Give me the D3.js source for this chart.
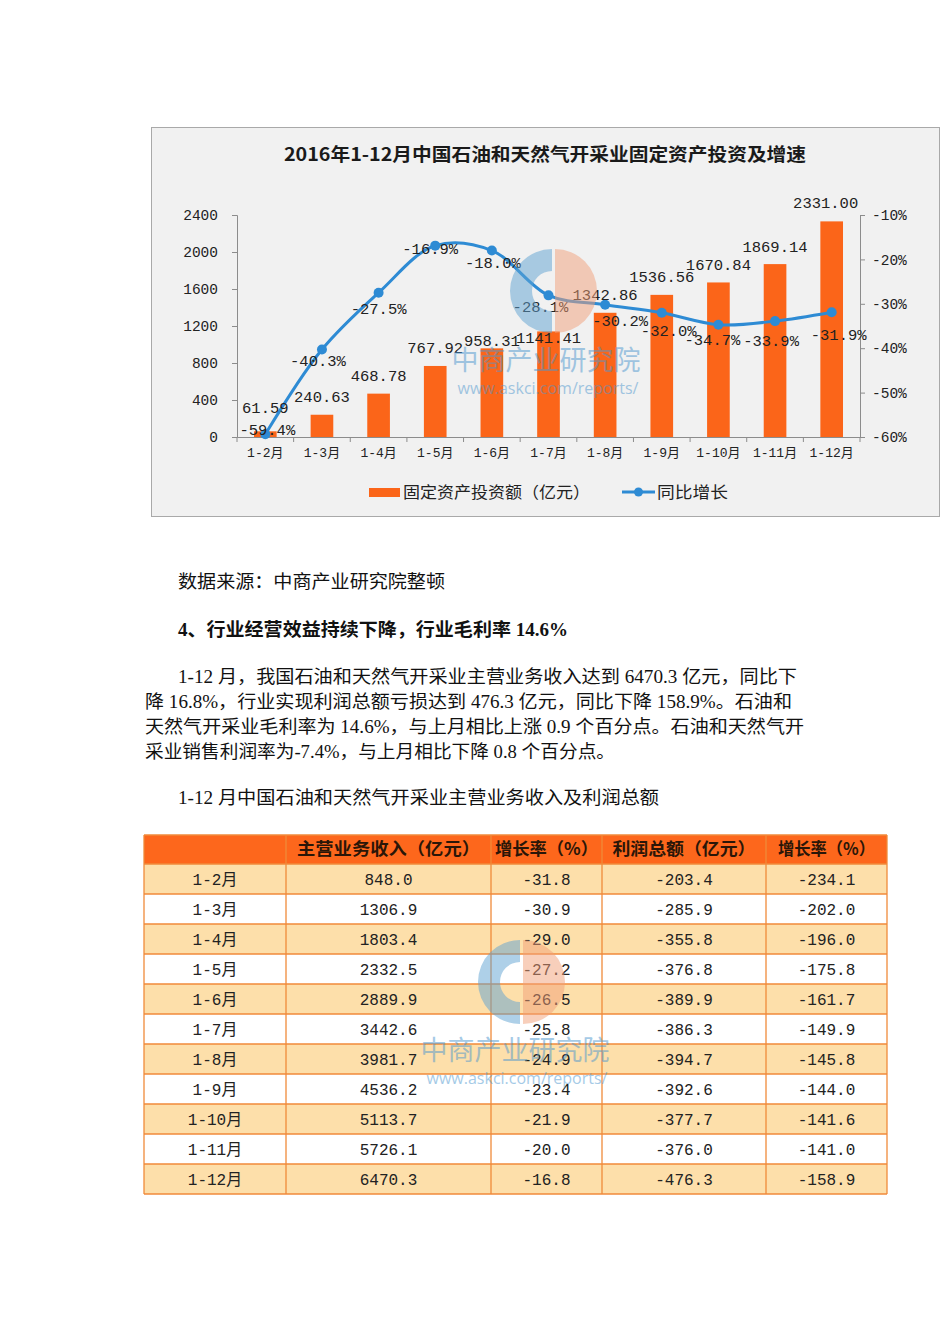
<!DOCTYPE html>
<html>
<head>
<meta charset="utf-8">
<script src="https://cdn.jsdelivr.net/npm/d3@7"></script>
<style>
  body { margin: 0; background: #fff; }
</style>
</head>
<body>
<div id="wrapper"></div>
<script>
// chart data
const months = ["1-2月", "1-3月", "1-4月", "1-5月", "1-6月", "1-7月", "1-8月", "1-9月", "1-10月", "1-11月", "1-12月"];
const investment = [61.59, 240.63, 468.78, 767.92, 958.31, 1141.41, 1342.86, 1536.56, 1670.84, 1869.14, 2331.00];
const growth = [-59.4, -40.3, -27.5, -16.9, -18.0, -28.1, -30.2, -32.0, -34.7, -33.9, -31.9];
const leftTicks = [0, 400, 800, 1200, 1600, 2000, 2400];
const rightTicks = [-60, -50, -40, -30, -20, -10];
const chartTitle = "2016年1-12月中国石油和天然气开采业固定资产投资及增速";
const legendNames = ["固定资产投资额（亿元）", "同比增长"];

// table data
const tableHeader = ["", "主营业务收入（亿元）", "增长率（%）", "利润总额（亿元）", "增长率（%）"];
const revenue = [848.0, 1306.9, 1803.4, 2332.5, 2889.9, 3442.6, 3981.7, 4536.2, 5113.7, 5726.1, 6470.3];
const revenueGrowth = [-31.8, -30.9, -29.0, -27.2, -26.5, -25.8, -24.9, -23.4, -21.9, -20.0, -16.8];
const profit = [-203.4, -285.9, -355.8, -376.8, -389.9, -386.3, -394.7, -392.6, -377.7, -376.0, -476.3];
const profitGrowth = [-234.1, -202.0, -196.0, -175.8, -161.7, -149.9, -145.8, -144.0, -141.6, -141.0, -158.9];

// document text
const sourceText = "数据来源：中商产业研究院整顿";
const headingText = "4、行业经营效益持续下降，行业毛利率 14.6%";
const paragraphLines = [
  "1-12 月，我国石油和天然气开采业主营业务收入达到 6470.3 亿元，同比下",
  "降 16.8%，行业实现利润总额亏损达到 476.3 亿元，同比下降 158.9%。石油和",
  "天然气开采业毛利率为 14.6%，与上月相比上涨 0.9 个百分点。石油和天然气开",
  "采业销售利润率为-7.4%，与上月相比下降 0.8 个百分点。"
];
const tableCaption = "1-12 月中国石油和天然气开采业主营业务收入及利润总额";

const monoFont = "'Liberation Mono', 'Noto Sans CJK SC', monospace";
const cjkFont = "'Noto Sans CJK SC', sans-serif";
const docFont = "'Liberation Serif', 'Noto Sans CJK SC', serif";

const barColor = "#fb6519";
const lineColor = "#2e8bd4";

const svg = d3.select("#wrapper")
  .append("svg")
  .attr("width", 950)
  .attr("height", 1344)
  .style("display", "block")

// watermark helper (askci logo + text)
function drawWatermark(g, cx, cy, tx, ty) {
  const wm = g.append("g").style("opacity", 0.5).style("pointer-events", "none")
  const arc = d3.arc()
  wm.append("path")
    .attr("transform", `translate(${cx},${cy})`)
    .attr("d", arc({innerRadius: 20, outerRadius: 42, startAngle: Math.PI, endAngle: 2 * Math.PI}))
    .attr("fill", "#5fa3d3")
  wm.append("path")
    .attr("transform", `translate(${cx + 3},${cy})`)
    .attr("d", arc({innerRadius: 0, outerRadius: 42, startAngle: 0, endAngle: Math.PI}))
    .attr("fill", "#f2a07a")
  wm.append("text")
    .attr("x", tx).attr("y", ty)
    .attr("text-anchor", "middle")
    .attr("font-family", cjkFont)
    .attr("font-size", 27)
    .attr("fill", "#4d97cf")
    .text("中商产业研究院")
  wm.append("text")
    .attr("x", tx + 2).attr("y", ty + 24)
    .attr("text-anchor", "middle")
    .attr("font-family", "'Open Sans', sans-serif")
    .attr("font-size", 16)
    .attr("fill", "#4d97cf")
    .text("www.askci.com/reports/")
}

// ---------------- Chart ----------------
const chart = svg.append("g")

chart.append("rect")
  .attr("x", 151.5).attr("y", 127.5)
  .attr("width", 788).attr("height", 389)
  .attr("fill", "#f1f1f1")
  .attr("stroke", "#a9a9a9")
  .attr("stroke-width", 1)

chart.append("text")
  .attr("x", 545).attr("y", 161)
  .attr("text-anchor", "middle")
  .attr("font-family", cjkFont)
  .attr("font-weight", "bold")
  .attr("font-size", 18)
  .attr("fill", "#1a1a1a")
  .attr("textLength", 522)
  .attr("lengthAdjust", "spacingAndGlyphs")
  .text(chartTitle)

const plot = { left: 237, right: 860, top: 215, bottom: 437 }

const xScale = d3.scaleBand()
  .domain(months)
  .range([plot.left, plot.right])
  .paddingInner(0.6)
  .paddingOuter(0.3)

const yLeft = d3.scaleLinear().domain([0, 2400]).range([plot.bottom, plot.top])
const yRight = d3.scaleLinear().domain([-60, -10]).range([plot.bottom, plot.top])

const axisColor = "#8c8c8c"

const yAxisL = chart.append("g")
  .attr("transform", `translate(${plot.left},0)`)
  .call(d3.axisLeft(yLeft).tickValues(leftTicks).tickFormat(d3.format("d"))
    .tickSize(5).tickSizeOuter(5).tickPadding(14))
yAxisL.selectAll("text").attr("font-family", monoFont).attr("font-size", 14.5).attr("fill", "#222")

const yAxisR = chart.append("g")
  .attr("transform", `translate(${plot.right},0)`)
  .call(d3.axisRight(yRight).tickValues(rightTicks).tickSize(5).tickSizeOuter(5).tickPadding(7).tickFormat(d => d + "%"))
yAxisR.selectAll("text").attr("font-family", monoFont).attr("font-size", 14.5).attr("fill", "#222")

const xAxis = chart.append("g")
  .attr("transform", `translate(0,${plot.bottom})`)
  .call(d3.axisBottom(xScale).tickSize(0).tickPadding(11))
xAxis.selectAll("text").attr("font-family", monoFont).attr("font-size", 13).attr("fill", "#222")

// boundary ticks between categories
xAxis.selectAll(".btick")
  .data(d3.range(months.length + 1))
  .join("line")
  .attr("class", "btick")
  .attr("x1", i => plot.left + i * xScale.step())
  .attr("x2", i => plot.left + i * xScale.step())
  .attr("y1", 0).attr("y2", 5)
  .attr("stroke", axisColor)

chart.selectAll(".domain, .tick line").attr("stroke", axisColor)

// bars
chart.append("g")
  .selectAll("rect")
  .data(investment)
  .join("rect")
  .attr("x", (d, i) => xScale(months[i]))
  .attr("y", d => yLeft(d))
  .attr("width", xScale.bandwidth())
  .attr("height", d => yLeft(0) - yLeft(d))
  .attr("fill", barColor)

// growth line
const lineGenerator = d3.line()
  .x((d, i) => xScale(months[i]) + xScale.bandwidth() / 2)
  .y(d => yRight(d))
  .curve(d3.curveCatmullRom.alpha(0.5))

chart.append("path")
  .attr("d", lineGenerator(growth))
  .attr("fill", "none")
  .attr("stroke", lineColor)
  .attr("stroke-width", 3)

chart.append("g")
  .selectAll("circle")
  .data(growth)
  .join("circle")
  .attr("cx", (d, i) => xScale(months[i]) + xScale.bandwidth() / 2)
  .attr("cy", d => yRight(d))
  .attr("r", 5)
  .attr("fill", lineColor)

// value labels (small nudges like the hand-placed Excel labels)
const barNudge = { 0: [0, -24], 4: [0, -8], 5: [0, 6], 10: [-6, -19] }
chart.append("g")
  .selectAll("text")
  .data(investment)
  .join("text")
  .attr("x", (d, i) => xScale(months[i]) + xScale.bandwidth() / 2 + (barNudge[i] ? barNudge[i][0] : 0))
  .attr("y", (d, i) => yLeft(d) + (barNudge[i] ? barNudge[i][1] : -18))
  .attr("dy", "0.35em")
  .attr("text-anchor", "middle")
  .attr("font-family", monoFont)
  .attr("font-size", 15.5)
  .attr("fill", "#222")
  .text(d => d.toFixed(2))

const lineNudge = {
  0: [2, -5], 1: [-4, 11], 2: [0, 16], 3: [-5, 3], 4: [1, 12], 5: [-8, 11],
  6: [15, 16], 7: [7, 18], 8: [-6, 15], 9: [-4, 19], 10: [7, 22]
}
chart.append("g")
  .selectAll("text")
  .data(growth)
  .join("text")
  .attr("x", (d, i) => xScale(months[i]) + xScale.bandwidth() / 2 + lineNudge[i][0])
  .attr("y", (d, i) => yRight(d) + lineNudge[i][1])
  .attr("dy", "0.35em")
  .attr("text-anchor", "middle")
  .attr("font-family", monoFont)
  .attr("font-size", 15.5)
  .attr("fill", "#222")
  .text(d => d.toFixed(1) + "%")

// watermark sits on top of the marks
drawWatermark(chart, 552, 291, 546, 370)

// legend
const legend = chart.append("g")
legend.append("rect")
  .attr("x", 369).attr("y", 488)
  .attr("width", 31).attr("height", 9)
  .attr("fill", barColor)
legend.append("text")
  .attr("x", 403).attr("y", 492)
  .attr("dy", "0.35em")
  .attr("font-family", cjkFont)
  .attr("font-size", 16)
  .attr("fill", "#222")
  .attr("textLength", 187).attr("lengthAdjust", "spacingAndGlyphs")
  .text(legendNames[0])
legend.append("line")
  .attr("x1", 622).attr("x2", 655)
  .attr("y1", 492).attr("y2", 492)
  .attr("stroke", lineColor)
  .attr("stroke-width", 3)
legend.append("circle")
  .attr("cx", 638.5).attr("cy", 492).attr("r", 4.5)
  .attr("fill", lineColor)
legend.append("text")
  .attr("x", 657).attr("y", 492)
  .attr("dy", "0.35em")
  .attr("font-family", cjkFont)
  .attr("font-size", 16)
  .attr("fill", "#222")
  .attr("textLength", 71).attr("lengthAdjust", "spacingAndGlyphs")
  .text(legendNames[1])

// ---------------- Document text ----------------
const doc = svg.append("g")
  .attr("font-family", docFont)
  .attr("font-size", 18)
  .attr("fill", "#111")

doc.append("text")
  .attr("x", 178).attr("y", 588)
  .attr("textLength", 267).attr("lengthAdjust", "spacingAndGlyphs")
  .text(sourceText)

doc.append("text")
  .attr("x", 178).attr("y", 636)
  .attr("font-weight", "bold")
  .attr("textLength", 390).attr("lengthAdjust", "spacingAndGlyphs")
  .text(headingText)

const lineEnds = [797, 792, 804, 615]
doc.selectAll(".para")
  .data(paragraphLines)
  .join("text")
  .attr("class", "para")
  .attr("x", (d, i) => i === 0 ? 178 : 145)
  .attr("y", (d, i) => 683 + i * 25)
  .attr("textLength", (d, i) => lineEnds[i] - (i === 0 ? 178 : 145))
  .attr("lengthAdjust", "spacingAndGlyphs")
  .text(d => d)

doc.append("text")
  .attr("x", 178).attr("y", 804)
  .attr("textLength", 481).attr("lengthAdjust", "spacingAndGlyphs")
  .text(tableCaption)

// ---------------- Table ----------------
const colEdges = [144, 286, 491, 602, 766, 887]
const headerWidths = [0, 183, 103, 143, 97]
const headerTop = 835, headerH = 29, rowH = 30
const tableRows = months.map((m, i) => [
  m,
  revenue[i].toFixed(1),
  revenueGrowth[i].toFixed(1),
  profit[i].toFixed(1),
  profitGrowth[i].toFixed(1)
])

const table = svg.append("g")
const rowY = d3.scaleLinear().domain([0, 1]).range([headerTop + headerH, headerTop + headerH + rowH])

table.append("rect")
  .attr("x", colEdges[0]).attr("y", headerTop)
  .attr("width", colEdges[5] - colEdges[0]).attr("height", headerH)
  .attr("fill", "#fd671c")

table.selectAll(".rowbg")
  .data(tableRows)
  .join("rect")
  .attr("class", "rowbg")
  .attr("x", colEdges[0]).attr("y", (d, i) => rowY(i))
  .attr("width", colEdges[5] - colEdges[0]).attr("height", rowH)
  .attr("fill", (d, i) => i % 2 === 0 ? "#fddfaa" : "#ffffff")

// grid lines
const tableBottom = rowY(tableRows.length)
table.selectAll(".vline")
  .data(colEdges)
  .join("line")
  .attr("class", "vline")
  .attr("x1", d => d).attr("x2", d => d)
  .attr("y1", headerTop).attr("y2", tableBottom)
  .attr("stroke", "#f08a3a").attr("stroke-width", 1.3)
table.selectAll(".hline")
  .data(d3.range(tableRows.length + 1))
  .join("line")
  .attr("class", "hline")
  .attr("x1", colEdges[0]).attr("x2", colEdges[5])
  .attr("y1", d => rowY(d)).attr("y2", d => rowY(d))
  .attr("stroke", "#f08a3a").attr("stroke-width", 1.3)
table.append("line")
  .attr("x1", colEdges[0]).attr("x2", colEdges[5])
  .attr("y1", headerTop).attr("y2", headerTop)
  .attr("stroke", "#f08a3a").attr("stroke-width", 1.3)

const colCenter = i => (colEdges[i] + colEdges[i + 1]) / 2

table.selectAll(".head")
  .data(tableHeader.slice(1))
  .join("text")
  .attr("class", "head")
  .attr("x", (d, i) => colCenter(i + 1))
  .attr("y", headerTop + headerH / 2)
  .attr("dy", "0.35em")
  .attr("text-anchor", "middle")
  .attr("font-family", cjkFont)
  .attr("font-weight", "bold")
  .attr("font-size", 17)
  .attr("fill", "#2a1608")
  .attr("textLength", (d, i) => headerWidths[i + 1])
  .attr("lengthAdjust", "spacingAndGlyphs")
  .text(d => d)

table.selectAll(".row")
  .data(tableRows)
  .join("g")
  .attr("class", "row")
  .selectAll("text")
  .data((d, i) => d.map(v => ({ v, i })))
  .join("text")
  .attr("x", (d, j) => colCenter(j))
  .attr("y", d => rowY(d.i) + rowH / 2)
  .attr("dy", "0.35em")
  .attr("text-anchor", "middle")
  .attr("font-family", monoFont)
  .attr("font-size", 16)
  .attr("fill", "#222")
  .text(d => d.v)

drawWatermark(table, 520, 982, 515, 1060)
</script>
</body>
</html>
